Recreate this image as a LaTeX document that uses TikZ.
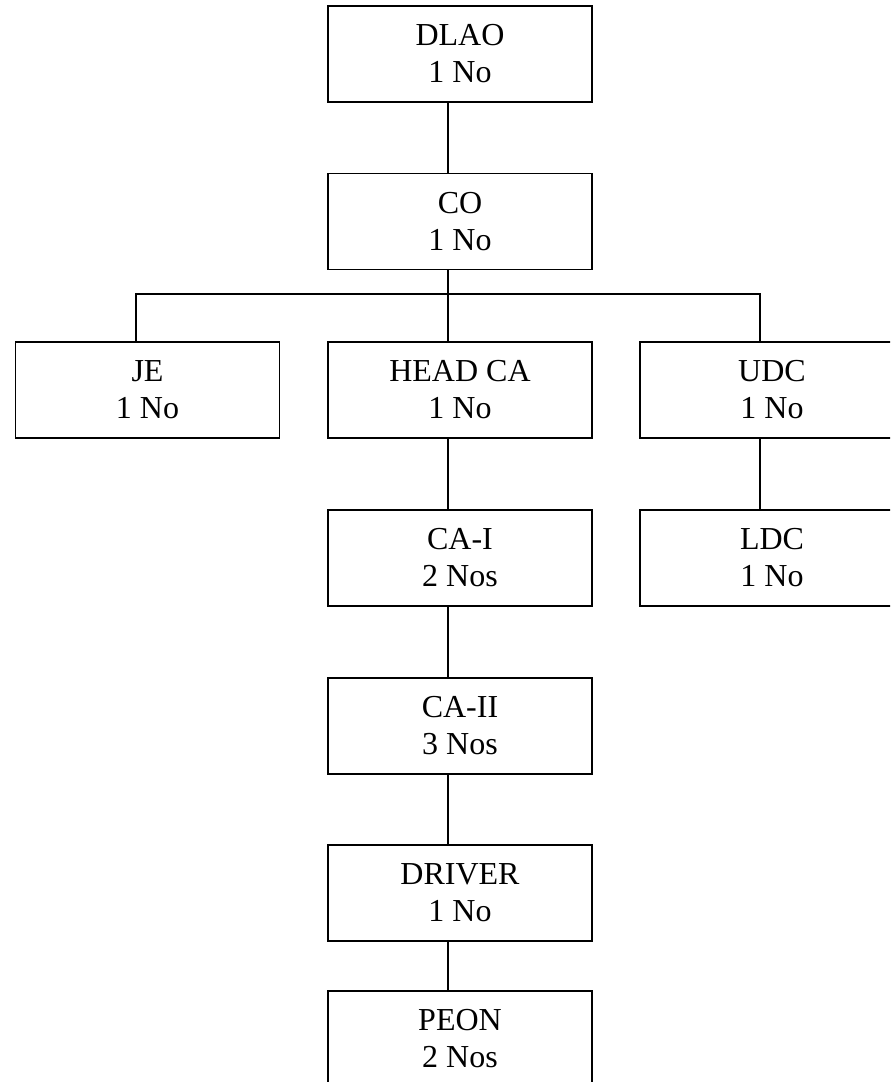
\documentclass[tikz,border=0pt]{standalone}
\usepackage{fontspec}
\setmainfont{Liberation Serif}
\begin{document}
\begin{tikzpicture}[x=0.75pt,y=-0.75pt,
  box/.style={draw, line width=1.3pt, minimum width=198pt, minimum height=72pt,
    inner sep=0pt, align=center, font=\fontsize{24}{27.75}\selectfont},
  link/.style={line width=1.3pt}]
\useasboundingbox (0,0) rectangle (890,1082);
\clip (0,0) rectangle (890,1082);
\node[box] (dlao) at (460,54) {DLAO\\1 No};
\node[box] (co) at (460,221.5) {CO\\1 No};
\node[box] (je) at (147.5,390) {JE\\1 No};
\node[box] (head) at (460,390) {HEAD CA\\1 No};
\node[box] (udc) at (772,390) {UDC\\1 No};
\node[box] (ldc) at (772,558) {LDC\\1 No};
\node[box] (cai) at (460,558) {CA-I\\2 Nos};
\node[box] (caii) at (460,726) {CA-II\\3 Nos};
\node[box] (driver) at (460,893) {DRIVER\\1 No};
\node[box] (peon) at (460,1039) {PEON\\2 Nos};
\coordinate (cx) at (448,0);
\coordinate (jx) at (136,0);
\coordinate (ux) at (760,0);
\coordinate (bar) at (0,294);
\draw[link] (dlao.south -| cx) -- (co.north -| cx);
\draw[link] (co.south -| cx) -- (bar -| cx);
\draw[link] (je.north -| jx) -- (bar -| jx) -- (bar -| ux) -- (udc.north -| ux);
\draw[link] (bar -| cx) -- (head.north -| cx);
\draw[link] (head.south -| cx) -- (cai.north -| cx);
\draw[link] (cai.south -| cx) -- (caii.north -| cx);
\draw[link] (caii.south -| cx) -- (driver.north -| cx);
\draw[link] (driver.south -| cx) -- (peon.north -| cx);
\draw[link] (udc.south -| ux) -- (ldc.north -| ux);
\end{tikzpicture}
\end{document}
